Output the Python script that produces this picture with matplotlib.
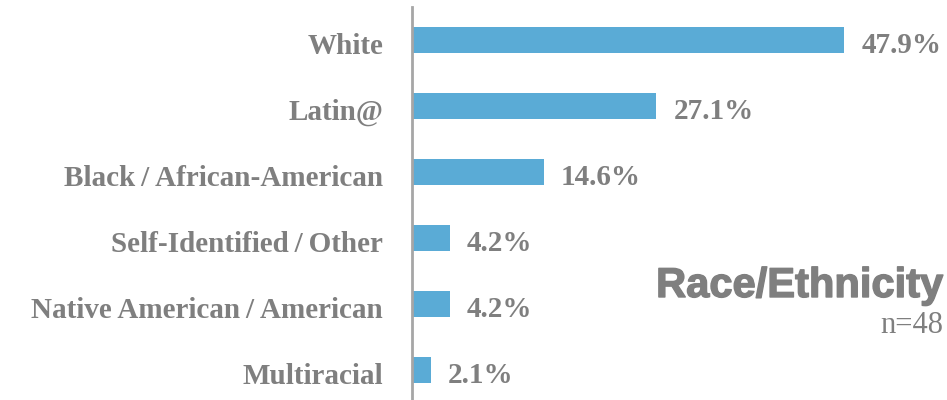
import matplotlib.pyplot as plt
import matplotlib.patheffects as pe

plt.rcParams.update({
    "font.family": "Liberation Serif",
    "font.weight": "bold",
})

BAR = "#5aabd6"
TEXT = "#7f7f7f"

categories = [
    "White",
    "Latin@",
    "Black\u2009/\u2009African-American",
    "Self-Identified\u2009/\u2009Other",
    "Native American\u2009/\u2009American",
    "Multiracial",
]
percent = [47.9, 27.1, 14.6, 4.2, 4.2, 2.1]

fig = plt.figure(figsize=(9.47, 4.0), dpi=100)
ax = fig.add_axes([0.435, -0.0075, 0.565, 0.99])

y = range(len(categories))
ax.barh(y, percent, height=0.4, color=BAR)

for yi, v in zip(y, percent):
    ax.text(v + 1.9, yi + 0.08, f"{v:.1f}%", va="center", ha="left",
            fontsize=21, color=TEXT, fontweight="bold")

# category names, sitting slightly below the bar centres
for yi, name in zip(y, categories):
    ax.text(-0.054, yi + 0.1, name, transform=ax.get_yaxis_transform(),
            va="center", ha="right", fontsize=21, color=TEXT,
            fontweight="bold")

ax.set_yticks([])
ax.set_xticks([])
ax.set_xlim(0, 59.3)
ax.set_ylim(5.5, -0.5)

for side in ("top", "right", "bottom"):
    ax.spines[side].set_visible(False)
ax.spines["left"].set_color("#a6a6a6")
ax.spines["left"].set_linewidth(2)

fig.text(0.996, 0.285, "Race/Ethnicity", ha="right", va="center",
         family="Liberation Sans", fontweight="bold", fontsize=30, color=TEXT,
         path_effects=[pe.withStroke(linewidth=1.0, foreground=TEXT)])
fig.text(0.996, 0.186, "n=48", ha="right", va="center",
         fontsize=22, fontweight="normal", color=TEXT)

fig.savefig("out.png", facecolor="white")
